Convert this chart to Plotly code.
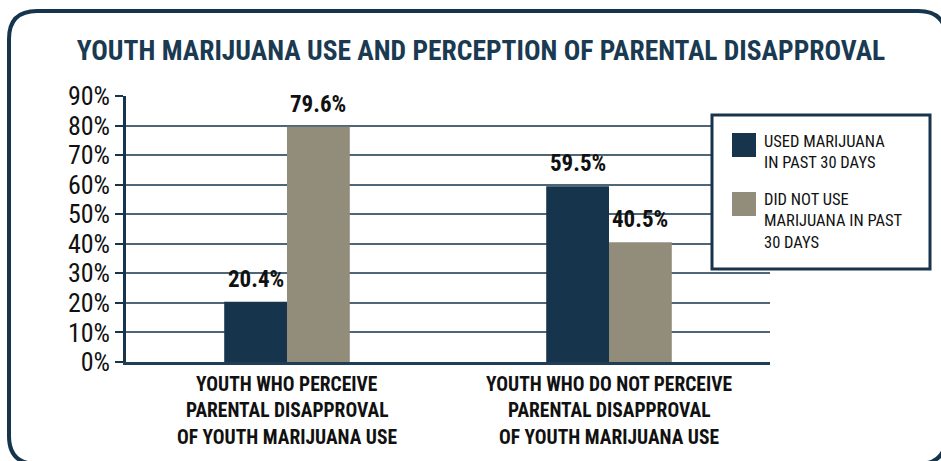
import plotly.graph_objects as go

title = "YOUTH MARIJUANA USE AND PERCEPTION OF PARENTAL DISAPPROVAL"
categories = ["perceive", "not_perceive"]
category_lines = [
    ["YOUTH WHO PERCEIVE", "PARENTAL DISAPPROVAL", "OF YOUTH MARIJUANA USE"],
    ["YOUTH WHO DO NOT PERCEIVE", "PARENTAL DISAPPROVAL", "OF YOUTH MARIJUANA USE"],
]
series_lines = [["USED MARIJUANA", "IN PAST 30 DAYS"], ["DID NOT USE", "MARIJUANA IN PAST", "30 DAYS"]]
used = [20.4, 59.5]
not_used = [79.6, 40.5]
tick_vals = [0, 10, 20, 30, 40, 50, 60, 70, 80, 90]
tick_text = ["0%", "10%", "20%", "30%", "40%", "50%", "60%", "70%", "80%", "90%"]

NAVY = "#16354d"
TAN = "#928c7a"
GRID = "#4d6779"
NARROW = "Roboto Condensed, Liberation Sans Narrow, Arial Narrow, sans-serif"

W, H = 941, 461
L, R, T, B = 126, 171, 96, 99
PW, PH = W - L - R, H - T - B

def px(x):
    return (x - L) / PW

def py(y):
    return (H - B - y) / PH

fig = go.Figure()
fig.add_trace(go.Bar(x=categories, y=used, name=" ".join(series_lines[0]), marker=dict(color=NAVY, line=dict(width=0))))
fig.add_trace(go.Bar(x=categories, y=not_used, name=" ".join(series_lines[1]), marker=dict(color=TAN, line=dict(width=0))))

annotations = []
# value labels
for vals, xs in ((used, -31), (not_used, 31)):
    for c, v in zip(categories, vals):
        annotations.append(dict(x=c, y=v, xref="x", yref="y", text=f"<b>{v:.1f}%</b>",
                                showarrow=False, yanchor="bottom", xshift=xs, yshift=7,
                                font=dict(family=NARROW, size=23, color="#111")))
# category labels
line_y = [384, 410.5, 437]
for c, lines in zip(categories, category_lines):
    for ly, t in zip(line_y, lines):
        annotations.append(dict(x=c, y=py(ly), xref="x", yref="paper", text=f"<b>{t}</b>",
                                showarrow=False, yanchor="middle",
                                font=dict(family=NARROW, size=19.5, color="#111")))

shapes = []
# outer rounded border
x0, y0, x1, y1 = px(9), py(11), px(946), py(464)
rx, ry = 28 / PW, 28 / PH
path = (f"M {x0+rx},{y0} L {x1-rx},{y0} Q {x1},{y0} {x1},{y0-ry} "
        f"L {x1},{y1+ry} Q {x1},{y1} {x1-rx},{y1} L {x0+rx},{y1} "
        f"Q {x0},{y1} {x0},{y1+ry} L {x0},{y0-ry} Q {x0},{y0} {x0+rx},{y0} Z")
shapes.append(dict(type="path", xref="paper", yref="paper", path=path,
                   line=dict(color=NAVY, width=4), layer="above"))
# custom legend box
shapes.append(dict(type="rect", xref="paper", yref="paper", x0=px(712), x1=px(930), y0=py(115), y1=py(269),
                   line=dict(color=NAVY, width=3), fillcolor="white", layer="above"))
sw_y = [(133, 157), (192, 216)]
for (ya, yb), col in zip(sw_y, [NAVY, TAN]):
    shapes.append(dict(type="rect", xref="paper", yref="paper", x0=px(732), x1=px(756), y0=py(ya), y1=py(yb),
                       line=dict(width=0), fillcolor=col, layer="above"))
legend_centers = [152, 220.5]
for cy, lines in zip(legend_centers, series_lines):
    annotations.append(dict(x=px(762), y=py(cy), xref="paper", yref="paper", text="<br>".join(lines),
                            showarrow=False, xanchor="left", yanchor="middle", align="left",
                            font=dict(family=NARROW, size=16.5, color="#111")))

fig.update_layout(
    width=W, height=H,
    margin=dict(l=L, r=R, t=T, b=B),
    paper_bgcolor="white", plot_bgcolor="white",
    barmode="group", bargap=0.61, bargroupgap=0,
    showlegend=False,
    title=dict(text=f"<b>{title}</b>", x=px(481), xref="paper", xanchor="center", y=1 - 50 / H, yanchor="middle",
               font=dict(family=NARROW, size=27.5, color="#1a3a52")),
    xaxis=dict(showticklabels=False, ticks="", showgrid=False, zeroline=False,
               showline=True, linecolor="#1f3d55", linewidth=3),
    yaxis=dict(range=[0, 90], tickvals=tick_vals, ticktext=tick_text, ticks="outside", ticklen=8,
               tickcolor=NAVY, tickwidth=2, showline=True, linecolor=NAVY, linewidth=2.5,
               showgrid=True, gridcolor=GRID, gridwidth=2, zeroline=False,
               tickfont=dict(family=NARROW, size=26, color="#111"),
               ticklabelstandoff=0),
    annotations=annotations, shapes=shapes,
)
fig.write_html("out.html")
